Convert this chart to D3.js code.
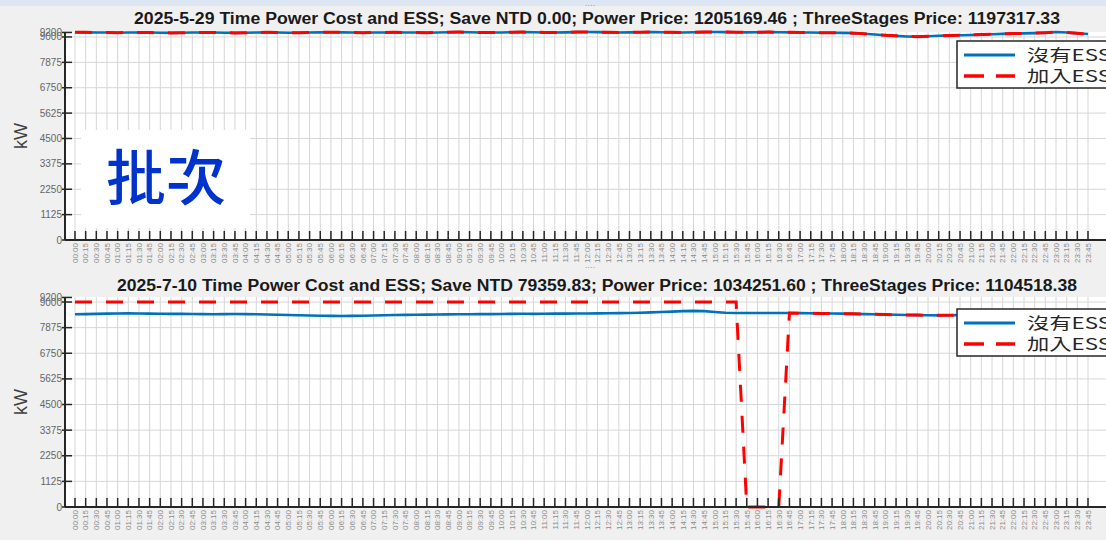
<!DOCTYPE html>
<html lang="en">
<head>
    <meta charset="UTF-8">
    <title>Time Power Cost and ESS</title>
    <script src="https://d3js.org/d3.v7.min.js"></script>
    <style>
        body { margin: 0; background: #f0f0f0; }
        svg { display: block; }
    </style>
</head>
<body>
<svg width="1106" height="540" viewBox="0 0 1106 540"></svg>
<script>
    // 96 quarter-hour slots, 00:00 .. 23:45
    let timeLabels = d3.range(96).map(function(i) {
        return d3.format("02d")(Math.floor(i / 4)) + ":" + d3.format("02d")((i % 4) * 15)
    })
    let yTicks = [0, 1125, 2250, 3375, 4500, 5625, 6750, 7875, 9000, 9200]

    let noEss529 = [
        9210, 9205, 9200, 9195, 9190, 9195, 9200, 9195, 9185, 9180, 9190, 9195,
        9200, 9195, 9185, 9180, 9190, 9200, 9205, 9200, 9190, 9185, 9195, 9205,
        9210, 9205, 9195, 9190, 9195, 9200, 9205, 9200, 9195, 9190, 9200, 9210,
        9215, 9210, 9200, 9195, 9200, 9210, 9215, 9210, 9200, 9195, 9205, 9215,
        9220, 9215, 9205, 9200, 9205, 9210, 9215, 9210, 9205, 9200, 9210, 9215,
        9220, 9215, 9210, 9205, 9210, 9215, 9210, 9205, 9200, 9195, 9190, 9185,
        9180, 9170, 9140, 9110, 9075, 9050, 9020, 9015, 9030, 9055, 9065, 9075,
        9090, 9105, 9120, 9135, 9150, 9160, 9170, 9190, 9220, 9200, 9160, 9130
    ]
    let withEss529 = [
        9210, 9205, 9200, 9195, 9190, 9195, 9200, 9195, 9185, 9180, 9190, 9195,
        9200, 9195, 9185, 9180, 9190, 9200, 9205, 9200, 9190, 9185, 9195, 9205,
        9210, 9205, 9195, 9190, 9195, 9200, 9205, 9200, 9195, 9190, 9200, 9210,
        9215, 9210, 9200, 9195, 9200, 9210, 9215, 9210, 9200, 9195, 9205, 9215,
        9220, 9215, 9205, 9200, 9205, 9210, 9215, 9210, 9205, 9200, 9210, 9215,
        9220, 9215, 9210, 9205, 9210, 9215, 9210, 9205, 9200, 9195, 9190, 9185,
        9180, 9170, 9140, 9110, 9075, 9050, 9020, 9015, 9030, 9055, 9065, 9075,
        9090, 9105, 9120, 9135, 9150, 9160, 9170, 9190, 9220, 9200, 9160, 9130
    ]
    let noEss710 = [
        8460, 8470, 8480, 8490, 8495, 8500, 8495, 8490, 8485, 8480, 8480, 8475,
        8470, 8465, 8470, 8475, 8470, 8460, 8450, 8440, 8430, 8420, 8410, 8400,
        8390, 8385, 8390, 8400, 8410, 8420, 8430, 8435, 8440, 8445, 8450, 8455,
        8460, 8465, 8470, 8470, 8475, 8480, 8485, 8480, 8485, 8490, 8490, 8495,
        8495, 8500, 8505, 8510, 8520, 8530, 8545, 8560, 8580, 8600, 8610, 8600,
        8560, 8530, 8520, 8515, 8515, 8520, 8520, 8515, 8510, 8505, 8500, 8495,
        8490, 8480, 8470, 8460, 8450, 8440, 8430, 8425, 8420, 8415, 8420, 8425,
        8430, 8435, 8440, 8445, 8450, 8455, 8460, 8460, 8455, 8450, 8445, 8440
    ]
    let withEss710 = [
        9000, 9000, 9000, 9000, 9000, 9000, 9000, 9000, 9000, 9000, 9000, 9000,
        9000, 9000, 9000, 9000, 9000, 9000, 9000, 9000, 9000, 9000, 9000, 9000,
        9000, 9000, 9000, 9000, 9000, 9000, 9000, 9000, 9000, 9000, 9000, 9000,
        9000, 9000, 9000, 9000, 9000, 9000, 9000, 9000, 9000, 9000, 9000, 9000,
        9000, 9000, 9000, 9000, 9000, 9000, 9000, 9000, 9000, 9000, 9000, 9000,
        9000, 9000, 9000, 0, 0, 0, 0, 8515, 8510, 8505, 8500, 8495,
        8490, 8480, 8470, 8460, 8450, 8440, 8430, 8425, 8420, 8415, 8420, 8425,
        8430, 8435, 8440, 8445, 8450, 8455, 8460, 8460, 8455, 8450, 8445, 8440
    ]
    let legendLabels = ["沒有ESS", "加入ESS"]

    let panels = [
        {title: "2025-5-29 Time Power Cost and ESS; Save NTD 0.00; Power Price: 1205169.46 ; ThreeStages Price: 1197317.33",
         titleX: 134, titleW: 926, titleY: 24,
         top: 32, bottom: 240, noEss: noEss529, withEss: withEss529, legendY: 41},
        {title: "2025-7-10 Time Power Cost and ESS; Save NTD 79359.83; Power Price: 1034251.60 ; ThreeStages Price: 1104518.38",
         titleX: 117, titleW: 960, titleY: 291,
         top: 297, bottom: 507, noEss: noEss710, withEss: withEss710, legendY: 309}
    ]

    let svg = d3.select('svg')
    svg.append("rect").attr("width", 1106).attr("height", 540).attr("fill", "#f0f0f0")
    svg.append("rect").attr("width", 1106).attr("height", 6).attr("fill", "#dde7f3")

    let x = d3.scaleLinear().domain([0, 95]).range([75, 1088])
    let axisLeft = 65, plotRight = 1110

    panels.forEach(function(p) {
        let y = d3.scaleLinear().domain([0, 9220]).range([p.bottom, p.top])
        let g = svg.append("g")

        g.append("rect")
            .attr("x", axisLeft).attr("y", p.top)
            .attr("width", plotRight - axisLeft).attr("height", p.bottom - p.top)
            .attr("fill", "white")

        // grid
        g.append("g").selectAll("line").data(d3.range(96)).enter().append("line")
            .attr("x1", d => x(d)).attr("x2", d => x(d))
            .attr("y1", p.top).attr("y2", p.bottom)
            .attr("stroke", "#d6d6d6").attr("stroke-width", 1)
        g.append("g").selectAll("line").data(yTicks.slice(1, 9)).enter().append("line")
            .attr("x1", axisLeft).attr("x2", plotRight)
            .attr("y1", d => y(d)).attr("y2", d => y(d))
            .attr("stroke", "#d6d6d6").attr("stroke-width", 1)

        // lines
        let line = d3.line().x((d, i) => x(i)).y(d => y(d))
        g.append("path").datum(p.noEss).attr("d", line)
            .attr("fill", "none").attr("stroke", "#0072BD").attr("stroke-width", 2.6)
        g.append("path").datum(p.withEss).attr("d", line)
            .attr("fill", "none").attr("stroke", "#ff0000").attr("stroke-width", 3)
            .attr("stroke-dasharray", "17,14")

        // axes
        g.append("line").attr("x1", axisLeft).attr("x2", plotRight)
            .attr("y1", p.bottom).attr("y2", p.bottom)
            .attr("stroke", "#262626").attr("stroke-width", 2)
        g.append("line").attr("x1", axisLeft).attr("x2", axisLeft)
            .attr("y1", p.top).attr("y2", p.bottom)
            .attr("stroke", "#262626").attr("stroke-width", 2)
        g.append("g").selectAll("line").data(d3.range(96)).enter().append("line")
            .attr("x1", d => x(d)).attr("x2", d => x(d))
            .attr("y1", p.bottom).attr("y2", p.bottom - 9)
            .attr("stroke", "#262626").attr("stroke-width", 1.5)
        g.append("g").selectAll("line").data(yTicks).enter().append("line")
            .attr("x1", axisLeft - 3).attr("x2", axisLeft + 7)
            .attr("y1", d => y(d)).attr("y2", d => y(d))
            .attr("stroke", "#262626").attr("stroke-width", 1.5)

        // the 9000 and 9200 labels sit on top of each other, as in the source figure
        g.append("g").selectAll("text").data(yTicks).enter().append("text")
            .attr("x", axisLeft - 3).attr("y", d => y(d) + 3.5)
            .attr("text-anchor", "end")
            .attr("font-family", "Liberation Sans, Arial, sans-serif")
            .attr("font-size", 10).attr("fill", "#666")
            .text(d => d)

        g.append("g").selectAll("text").data(timeLabels).enter().append("text")
            .attr("transform", (d, i) => `translate(${x(i) + 2.8},${p.bottom + 3}) rotate(-90)`)
            .attr("text-anchor", "end")
            .attr("font-family", "Liberation Sans, Arial, sans-serif")
            .attr("font-size", 8).attr("fill", "#8a8a8a")
            .text(d => d)

        g.append("text")
            .attr("transform", `translate(27,${(p.top + p.bottom) / 2}) rotate(-90)`)
            .attr("text-anchor", "middle")
            .attr("font-family", "Liberation Sans, Arial, sans-serif")
            .attr("font-size", 18).attr("fill", "#404040")
            .text("kW")

        g.append("text")
            .attr("x", p.titleX).attr("y", p.titleY)
            .attr("textLength", p.titleW).attr("lengthAdjust", "spacingAndGlyphs")
            .attr("font-family", "Liberation Sans, Arial, sans-serif")
            .attr("font-weight", "bold").attr("font-size", 16).attr("fill", "#1a1a1a")
            .text(p.title)

        // legend
        let lg = g.append("g").attr("transform", `translate(957,${p.legendY})`)
        lg.append("rect").attr("width", 160).attr("height", 47)
            .attr("fill", "white").attr("stroke", "#262626").attr("stroke-width", 1.5)
        lg.append("line").attr("x1", 7).attr("x2", 58).attr("y1", 14).attr("y2", 14)
            .attr("stroke", "#0072BD").attr("stroke-width", 3)
        lg.append("line").attr("x1", 7).attr("x2", 58).attr("y1", 35).attr("y2", 35)
            .attr("stroke", "#ff0000").attr("stroke-width", 3.5)
            .attr("stroke-dasharray", "20,12")
        lg.selectAll("text").data(legendLabels).enter().append("text")
            .attr("x", 70).attr("y", (d, i) => 20 + i * 21)
            .attr("textLength", 84).attr("lengthAdjust", "spacingAndGlyphs")
            .attr("font-family", "Noto Sans CJK TC, sans-serif")
            .attr("font-size", 16).attr("fill", "#262626")
            .text(d => d)
    })

    // small marks above each title
    svg.selectAll(".dots").data([8, 270]).enter().append("text")
        .attr("x", 590).attr("y", d => d).attr("text-anchor", "middle")
        .attr("font-family", "Liberation Sans, sans-serif").attr("font-size", 8)
        .attr("fill", "#777").text("····")

    // overlay label
    svg.append("rect").attr("x", 81).attr("y", 130).attr("width", 169).attr("height", 98)
        .attr("fill", "white")
    svg.append("text").attr("x", 166).attr("y", 200).attr("text-anchor", "middle")
        .attr("font-family", "Noto Sans CJK TC, sans-serif").attr("font-weight", 500)
        .attr("font-size", 60).attr("fill", "#0033cc")
        .text("批次")
</script>
</body>
</html>
